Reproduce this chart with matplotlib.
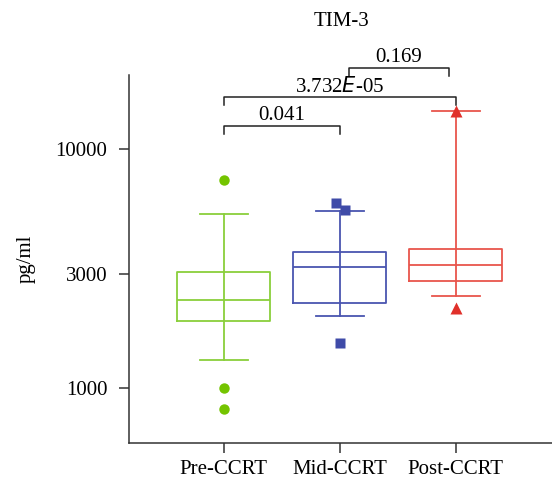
import matplotlib
matplotlib.use("Agg")
import matplotlib.pyplot as plt
import numpy as np
from matplotlib.ticker import FixedLocator, NullLocator

plt.rcParams['font.family'] = ['Liberation Serif', 'DejaVu Serif']
plt.rcParams['font.size'] = 15

# data (pg/ml)
groups = ["Pre-CCRT", "Mid-CCRT", "Post-CCRT"]
whislo = [1319, 2003, 2436]
q1 = [1920, 2278, 2823]
med = [2337, 3230, 3283]
q3 = [3069, 3732, 3819]
whishi = [5350, 5521, 14500]
outliers = [[7440, 1000, 821], [5981, 5591, 1550], [14500, 2170]]
outlier_dx = [[0, 0, 0], [-0.03, 0.045, 0], [0, 0]]

line_colors = ['#8ACF3C', '#4A55B0', '#E8554C']
mark_colors = ['#74C400', '#3F4BA8', '#E0302A']
markers = ['o', 's', '^']
msizes = [7.5, 7, 8.5]

# significance brackets: (x1, x2, y, label)
brackets = [(0, 1, 12550, "0.041"),
            (0, 2, 16500, "3.732$\\mathit{E}$-05"),
            (1.08, 1.94, 21900, "0.169")]

fig = plt.figure(figsize=(5.52, 4.8), dpi=100)
ax = fig.add_axes([0.2332, 0.0777, 0.7668, 0.766])
ax.set_yscale('log')

pos = np.arange(len(groups))
for i in range(len(groups)):
    st = [dict(med=med[i], q1=q1[i], q3=q3[i], whislo=whislo[i], whishi=whishi[i], fliers=[])]
    c = line_colors[i]
    ax.bxp(st, positions=[pos[i]], widths=0.805, showfliers=False, manage_ticks=False,
           boxprops=dict(color=c, lw=1.3), medianprops=dict(color=c, lw=1.3),
           whiskerprops=dict(color=c, lw=1.3), capprops=dict(color=c, lw=1.3),
           capwidths=0.414)
    # whisker line runs through the box in the reference
    ax.plot([pos[i], pos[i]], [q1[i], q3[i]], color=c, lw=1.3)
    ox = [pos[i] + d for d in outlier_dx[i]]
    ax.plot(ox, outliers[i], ls='none', marker=markers[i], ms=msizes[i],
            color=mark_colors[i], mec='none', zorder=5)

for x1, x2, y, lab in brackets:
    yd = y / 1.08
    ax.plot([x1, x1, x2, x2], [yd, y, y, yd], color='#222222', lw=1.1, clip_on=False)
    ax.annotate(lab, ((x1 + x2) / 2, y), xytext=(0, 0.5), textcoords='offset points',
                ha='center', va='bottom', fontsize=15, annotation_clip=False)

ax.set_xlim(-0.82, 2.83)
ax.set_ylim(593, 20450)
ax.set_xticks(pos)
ax.set_xticklabels(groups)
ax.yaxis.set_major_locator(FixedLocator([1000, 3000, 10000]))
ax.yaxis.set_minor_locator(NullLocator())
ax.set_yticklabels(['1000', '3000', '10000'])
ax.set_ylabel('pg/ml', labelpad=14)

for s in ['top', 'right']:
    ax.spines[s].set_visible(False)
for s in ['left', 'bottom']:
    ax.spines[s].set_linewidth(1.1)
    ax.spines[s].set_color('#333333')
ax.tick_params(axis='both', length=7.5, width=1.1, color='#333333', pad=8)
ax.tick_params(axis='x', pad=5)

fig.text(0.618, 0.955, 'TIM-3', ha='center', va='center', fontsize=15)

fig.savefig('out.png', dpi=100)
